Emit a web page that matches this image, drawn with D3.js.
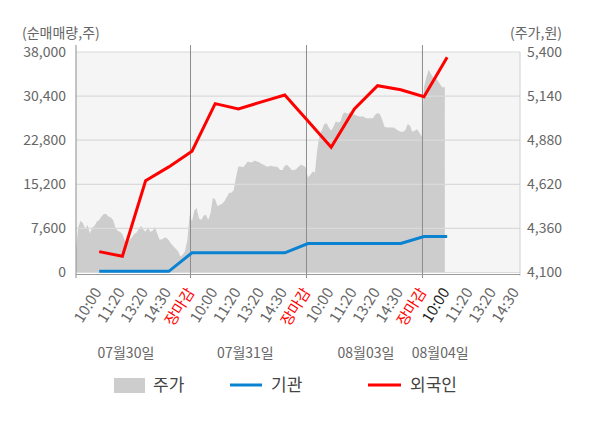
<!DOCTYPE html>
<html>
<head>
<meta charset="utf-8">
<script src="https://cdn.jsdelivr.net/npm/d3@7"></script>
<style>
  body { margin: 0; background: #fff; }
  text { font-family: "Noto Sans CJK KR", "Noto Sans", sans-serif; }
</style>
</head>
<body>
<div id="chart"></div>
<script>
// 날짜 / 시간 라벨
var days = ["07월30일", "07월31일", "08월03일", "08월04일"];
var dayLabelSlot = [2.15, 7.3, 12.5, 15.7];
var timeLabels = ["10:00", "11:20", "13:20", "14:30", "장마감"];

// 축 눈금
var leftTicks = [0, 7600, 15200, 22800, 30400, 38000];
var rightTicks = [4100, 4360, 4620, 4880, 5140, 5400];

// 외국인 / 기관 누적 순매매량 (10:00 ~ 장마감, 4일)
var foreign = [3600, 2800, 15800, 18200, 20900, 29100, 28200, 29400, 30600,
               26100, 21600, 28200, 32200, 31500, 30300, 37100];
var inst = [200, 200, 200, 200, 3400, 3400, 3400, 3400, 3400,
            5000, 5000, 5000, 5000, 5000, 6200, 6200];

// 주가 (하루 50 구간)
var price = [
  4235, 4370, 4405, 4390, 4360, 4380, 4330, 4365, 4375, 4400,
  4410, 4430, 4445, 4445, 4430, 4425, 4410, 4365, 4345, 4340,
  4325, 4290, 4275, 4290, 4305, 4325, 4335, 4355, 4375, 4355,
  4340, 4365, 4340, 4345, 4370, 4330, 4295, 4295, 4305, 4305,
  4290, 4270, 4255, 4240, 4225, 4195, 4205, 4225, 4295, 4440,
  4400, 4465, 4480, 4420, 4410, 4435, 4440, 4410, 4450, 4540,
  4530, 4490, 4500, 4505, 4520, 4545, 4570, 4570, 4585, 4665,
  4725, 4725, 4720, 4735, 4755, 4750, 4750, 4760, 4755, 4750,
  4740, 4735, 4725, 4725, 4730, 4725, 4725, 4720, 4705, 4705,
  4730, 4735, 4720, 4705, 4705, 4710, 4725, 4735, 4730, 4720,
  4660, 4675, 4695, 4690, 4825, 4910, 4940, 4975, 4980, 4955,
  4935, 4960, 4990, 4985, 4990, 5035, 5045, 5035, 5045, 5035,
  5030, 5025, 5020, 5020, 5020, 5010, 5010, 5010, 5010, 5030,
  5040, 5035, 5000, 4960, 4955, 4955, 4955, 4955, 4945, 4935,
  4930, 4930, 4940, 4975, 4965, 4930, 4935, 4945, 4925, 4900,
  5190, 5250, 5295, 5270, 5250, 5245, 5230, 5210, 5190, 5195
];

var ancho = 600, alto = 428;
var izq = 76, der = 520, arriba = 52, abajo = 272.5;

var svg = d3.select("#chart").append("svg")
  .attr("width", ancho)
  .attr("height", alto);

var x = d3.scaleLinear().domain([0, 19.14]).range([izq, der]);
var yL = d3.scaleLinear().domain([0, 38000]).range([abajo, arriba]);
var yR = d3.scaleLinear().domain([4100, 5400]).range([abajo, arriba]);

// fondo
svg.append("rect")
  .attr("x", izq).attr("y", arriba)
  .attr("width", der - izq).attr("height", abajo - arriba)
  .attr("fill", "#f5f5f5");

// area de precio
var area = d3.area()
  .x(function(d, i) { return x(i / 10); })
  .y0(yR(4100))
  .y1(function(d) { return yR(d); });

svg.append("path")
  .datum(price)
  .attr("d", area)
  .attr("fill", "#cdcdcd");

// grid
svg.append("g").selectAll("line")
  .data(leftTicks)
  .enter().append("line")
  .attr("x1", izq).attr("x2", der)
  .attr("y1", function(d) { return yL(d); })
  .attr("y2", function(d) { return yL(d); })
  .attr("stroke", "#dadada")
  .attr("stroke-width", 1.2);

// separadores de dia
svg.append("g").selectAll("line")
  .data([5, 10, 15])
  .enter().append("line")
  .attr("x1", function(d) { return x(d) - 1.5; })
  .attr("x2", function(d) { return x(d) - 1.5; })
  .attr("y1", 45).attr("y2", 278)
  .attr("stroke", "#8c8c8c")
  .attr("stroke-width", 1);

// ejes
svg.append("line")
  .attr("x1", izq).attr("x2", izq).attr("y1", 45).attr("y2", 278)
  .attr("stroke", "#8c8c8c");
svg.append("line")
  .attr("x1", der).attr("x2", der).attr("y1", arriba).attr("y2", 276)
  .attr("stroke", "#d0d0d0");
svg.append("line")
  .attr("x1", izq).attr("x2", der).attr("y1", abajo + 2).attr("y2", abajo + 2)
  .attr("stroke", "#9a9a9a");

var fmt = d3.format(",");

svg.append("g").selectAll("text")
  .data(leftTicks)
  .enter().append("text")
  .text(function(d) { return fmt(d); })
  .attr("x", 66)
  .attr("y", function(d) { return yL(d); })
  .attr("dy", "0.35em")
  .attr("text-anchor", "end")
  .attr("font-size", "14px")
  .attr("fill", "#666");

svg.append("g").selectAll("text")
  .data(rightTicks)
  .enter().append("text")
  .text(function(d) { return fmt(d); })
  .attr("x", 527)
  .attr("y", function(d) { return yR(d); })
  .attr("dy", "0.35em")
  .attr("font-size", "14px")
  .attr("fill", "#666");

svg.append("text")
  .text("(순매매량,주)")
  .attr("x", 22).attr("y", 38)
  .attr("font-size", "14px")
  .attr("fill", "#666");

svg.append("text")
  .text("(주가,원)")
  .attr("x", 562).attr("y", 38)
  .attr("text-anchor", "end")
  .attr("font-size", "14px")
  .attr("fill", "#666");

// etiquetas de hora
var marcas = [];
days.forEach(function(dia, d) {
  timeLabels.forEach(function(t, k) {
    var s = d * 5 + k + 1;
    if (s <= 19) marcas.push({ s: s, t: t, ultimo: d === 3 && k === 0 });
  });
});

svg.append("g").selectAll("text")
  .data(marcas)
  .enter().append("text")
  .text(function(d) { return d.t; })
  .attr("transform", function(d) {
    return "translate(" + (x(d.s) + 3) + ",292) rotate(-58)";
  })
  .attr("text-anchor", "end")
  .attr("font-size", "15px")
  .attr("fill", function(d) {
    if (d.t === "장마감") return "#ff0000";
    return d.ultimo ? "#222" : "#666";
  });

svg.append("g").selectAll("text")
  .data(days)
  .enter().append("text")
  .text(function(d) { return d; })
  .attr("x", function(d, i) { return x(dayLabelSlot[i]); })
  .attr("y", 358)
  .attr("text-anchor", "middle")
  .attr("font-size", "14px")
  .attr("fill", "#666");

// lineas
var linea = function(yS) {
  return d3.line()
    .x(function(d, i) { return x(i + 1); })
    .y(function(d) { return yS(d); });
};

svg.append("path")
  .datum(inst)
  .attr("d", linea(yL))
  .attr("fill", "none")
  .attr("stroke", "#0a82d2")
  .attr("stroke-width", 3);

svg.append("path")
  .datum(foreign)
  .attr("d", linea(yL))
  .attr("fill", "none")
  .attr("stroke", "#ff0000")
  .attr("stroke-width", 3);

// leyenda
var ley = svg.append("g");
ley.append("rect")
  .attr("x", 114).attr("y", 378).attr("width", 31).attr("height", 15)
  .attr("fill", "#cdcdcd");
ley.append("text").text("주가")
  .attr("x", 153).attr("y", 391)
  .attr("font-size", "17px").attr("fill", "#444");

ley.append("line")
  .attr("x1", 230).attr("x2", 262).attr("y1", 385).attr("y2", 385)
  .attr("stroke", "#0a82d2").attr("stroke-width", 3);
ley.append("text").text("기관")
  .attr("x", 271).attr("y", 391)
  .attr("font-size", "17px").attr("fill", "#444");

ley.append("line")
  .attr("x1", 368).attr("x2", 401).attr("y1", 385).attr("y2", 385)
  .attr("stroke", "#ff0000").attr("stroke-width", 3);
ley.append("text").text("외국인")
  .attr("x", 410).attr("y", 391)
  .attr("font-size", "17px").attr("fill", "#444");
</script>
</body>
</html>
